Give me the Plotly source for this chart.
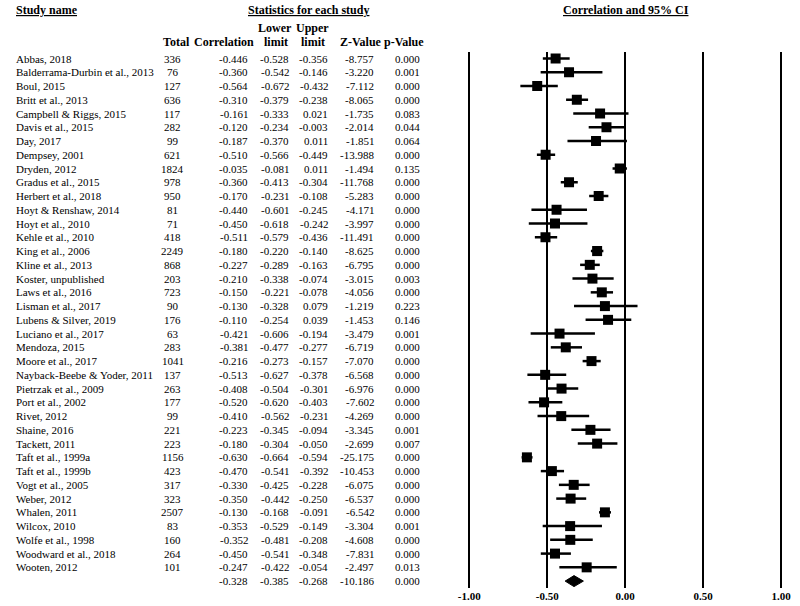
import plotly.graph_objects as go

# ---------------- data ----------------
study_names = [
    "Abbas, 2018", "Balderrama-Durbin et al., 2013", "Boul, 2015", "Britt et al., 2013",
    "Campbell & Riggs, 2015", "Davis et al., 2015", "Day, 2017", "Dempsey, 2001",
    "Dryden, 2012", "Gradus et al., 2015", "Herbert et al., 2018", "Hoyt & Renshaw, 2014",
    "Hoyt et al., 2010", "Kehle et al., 2010", "King et al., 2006", "Kline et al., 2013",
    "Koster, unpublished", "Laws et al., 2016", "Lisman et al., 2017", "Lubens & Silver, 2019",
    "Luciano et al., 2017", "Mendoza, 2015", "Moore et al., 2017", "Nayback-Beebe & Yoder, 2011",
    "Pietrzak et al., 2009", "Port et al., 2002", "Rivet, 2012", "Shaine, 2016",
    "Tackett, 2011", "Taft et al., 1999a", "Taft et al., 1999b", "Vogt et al., 2005",
    "Weber, 2012", "Whalen, 2011", "Wilcox, 2010", "Wolfe et al., 1998",
    "Woodward et al., 2018", "Wooten, 2012",
]
totals = [336, 76, 127, 636, 117, 282, 99, 621, 1824, 978, 950, 81, 71, 418, 2249, 868,
          203, 723, 90, 176, 63, 283, 1041, 137, 263, 177, 99, 221, 223, 1156, 423, 317,
          323, 2507, 83, 160, 264, 101]
correlation = [-0.446, -0.360, -0.564, -0.310, -0.161, -0.120, -0.187, -0.510, -0.035, -0.360,
               -0.170, -0.440, -0.450, -0.511, -0.180, -0.227, -0.210, -0.150, -0.130, -0.110,
               -0.421, -0.381, -0.216, -0.513, -0.408, -0.520, -0.410, -0.223, -0.180, -0.630,
               -0.470, -0.330, -0.350, -0.130, -0.353, -0.352, -0.450, -0.247]
lower_limit = [-0.528, -0.542, -0.672, -0.379, -0.333, -0.234, -0.370, -0.566, -0.081, -0.413,
               -0.231, -0.601, -0.618, -0.579, -0.220, -0.289, -0.338, -0.221, -0.328, -0.254,
               -0.606, -0.477, -0.273, -0.627, -0.504, -0.620, -0.562, -0.345, -0.304, -0.664,
               -0.541, -0.425, -0.442, -0.168, -0.529, -0.481, -0.541, -0.422]
upper_limit = [-0.356, -0.146, -0.432, -0.238, 0.021, -0.003, 0.011, -0.449, 0.011, -0.304,
               -0.108, -0.245, -0.242, -0.436, -0.140, -0.163, -0.074, -0.078, 0.079, 0.039,
               -0.194, -0.277, -0.157, -0.378, -0.301, -0.403, -0.231, -0.094, -0.050, -0.594,
               -0.392, -0.228, -0.250, -0.091, -0.149, -0.208, -0.348, -0.054]
z_value = [-8.757, -3.220, -7.112, -8.065, -1.735, -2.014, -1.851, -13.988, -1.494, -11.768,
           -5.283, -4.171, -3.997, -11.491, -8.625, -6.795, -3.015, -4.056, -1.219, -1.453,
           -3.479, -6.719, -7.070, -6.568, -6.976, -7.602, -4.269, -3.345, -2.699, -25.175,
           -10.453, -6.075, -6.537, -6.542, -3.304, -4.608, -7.831, -2.497]
p_value = [0.000, 0.001, 0.000, 0.000, 0.083, 0.044, 0.064, 0.000, 0.135, 0.000,
           0.000, 0.000, 0.000, 0.000, 0.000, 0.000, 0.003, 0.000, 0.223, 0.146,
           0.001, 0.000, 0.000, 0.000, 0.000, 0.000, 0.000, 0.001, 0.007, 0.000,
           0.000, 0.000, 0.000, 0.000, 0.001, 0.000, 0.000, 0.013]

summary_corr = -0.328
summary_lower = -0.385
summary_upper = -0.268
summary_z = -10.186
summary_p = 0.000

axis_ticks = [-1.0, -0.5, 0.0, 0.5, 1.0]
axis_ticktext = ["-1.00", "-0.50", "0.00", "0.50", "1.00"]

# ---------------- layout helpers ----------------
W, H = 800, 606
FONT = "Liberation Serif, Times New Roman, serif"
FS_NUM = 11
FS_NAME = 11
FS_HEAD = 12


def px_x(p):
    return p / W


def px_y(p):
    return 1 - p / H


n = len(study_names)
rows = list(range(n))
summary_row = n

fig = go.Figure()

# study points with CIs
fig.add_trace(go.Scatter(
    x=correlation, y=rows, mode="markers",
    marker=dict(symbol="square", size=10, color="black"),
    error_x=dict(type="data", symmetric=False,
                 array=[u - c for u, c in zip(upper_limit, correlation)],
                 arrayminus=[c - l for c, l in zip(correlation, lower_limit)],
                 thickness=2.5, width=0, color="black"),
    showlegend=False, hoverinfo="skip",
))

# summary diamond
dh = 0.4
fig.add_trace(go.Scatter(
    x=[summary_lower, summary_corr, summary_upper, summary_corr, summary_lower],
    y=[summary_row, summary_row - dh, summary_row, summary_row + dh, summary_row],
    mode="lines", fill="toself", fillcolor="black",
    line=dict(color="black", width=1),
    showlegend=False, hoverinfo="skip",
))

annotations = []


def ann(text, x, y, xanchor, yref="y", bold=False, underline=False, size=FS_NUM):
    font = dict(family=FONT, size=size, color="black")
    if underline:
        font["lineposition"] = "under"
    if bold:
        font["weight"] = "bold"
    annotations.append(dict(
        text=text, x=x, y=y, xref="paper", yref=yref, xanchor=xanchor,
        yanchor="middle", showarrow=False, font=font, borderpad=0,
    ))


col_total = px_x(168)
col_corr = px_x(246)
col_low = px_x(287)
col_up = px_x(327)
col_z = px_x(374)
col_p = px_x(421)

for i in rows:
    ann(study_names[i], px_x(7), i, "left", size=FS_NAME)
    ann(str(totals[i]), col_total, i, "center", size=FS_NAME)
    ann(f"{correlation[i]:.3f}", col_corr, i, "right")
    ann(f"{lower_limit[i]:.3f}", col_low, i, "right")
    ann(f"{upper_limit[i]:.3f}", col_up, i, "right")
    ann(f"{z_value[i]:.3f}", col_z, i, "right")
    ann(f"{p_value[i]:.3f}", col_p, i, "right")

ann(f"{summary_corr:.3f}", col_corr, summary_row, "right")
ann(f"{summary_lower:.3f}", col_low, summary_row, "right")
ann(f"{summary_upper:.3f}", col_up, summary_row, "right")
ann(f"{summary_z:.3f}", col_z, summary_row, "right")
ann(f"{summary_p:.3f}", col_p, summary_row, "right")

# headers
HB = dict(yref="paper", bold=True, size=FS_HEAD)
ann("Study name", px_x(7), px_y(10), "left", underline=True, **HB)
ann("Statistics for each study", px_x(306), px_y(10), "center", underline=True, **HB)
ann("Correlation and 95% CI", px_x(630), px_y(10), "center", underline=True, **HB)
ann("Lower", px_x(272), px_y(28), "center", **HB)
ann("Upper", px_x(310), px_y(28), "center", **HB)
ann("Total", px_x(172), px_y(42), "center", **HB)
ann("Correlation", px_x(220), px_y(42), "center", **HB)
ann("limit", px_x(273), px_y(42), "center", **HB)
ann("limit", px_x(311), px_y(42), "center", **HB)
ann("Z-Value", px_x(360), px_y(42), "center", **HB)
ann("p-Value", px_x(404), px_y(42), "center", **HB)

# axis geometry: -1 at 470px, +1 at 788px
ppu = (788 - 470) / 2.0
center = (788 + 470) / 2.0
xr = 1.02
row_px0, row_step = 58.6, 13.75
top_px, bot_px = 52, 588

fig.update_layout(
    width=W, height=H,
    margin=dict(l=0, r=0, t=0, b=0),
    paper_bgcolor="white", plot_bgcolor="white",
    font=dict(family=FONT, size=FS_NUM, color="black"),
    annotations=annotations,
    xaxis=dict(
        domain=[px_x(center - xr * ppu), px_x(center + xr * ppu)],
        range=[-xr, xr],
        tickvals=axis_ticks,
        ticktext=[f"<b>{t}</b>" for t in axis_ticktext],
        tickfont=dict(family=FONT, size=FS_NUM, color="black"),
        showgrid=True, gridcolor="black", gridwidth=2,
        zeroline=True, zerolinecolor="black", zerolinewidth=2,
        showline=False, ticks="", fixedrange=True,
    ),
    yaxis=dict(
        domain=[1 - bot_px / H, 1 - top_px / H],
        range=[(bot_px - row_px0) / row_step, (top_px - row_px0) / row_step],
        showgrid=False, zeroline=False, showticklabels=False, showline=False,
        ticks="", fixedrange=True,
    ),
)

fig.write_html(
    "out.html",
    config={"displayModeBar": False},
    post_script="document.body.style.margin='0px';document.body.style.overflow='hidden';",
)
